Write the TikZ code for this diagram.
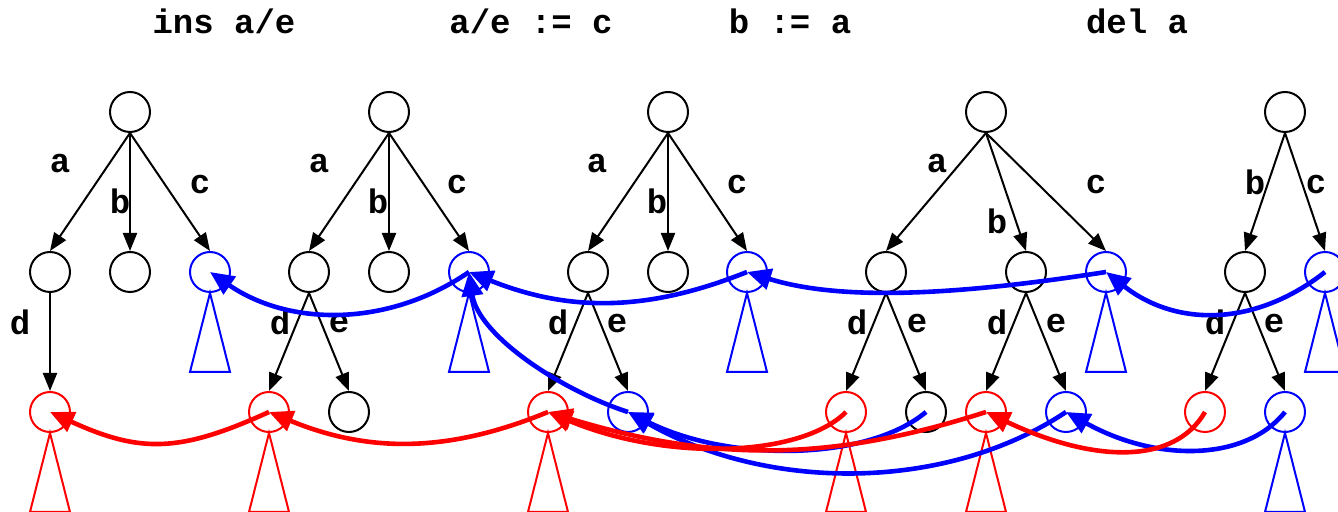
\documentclass[tikz,border=0pt]{standalone}
\usepackage{fontspec}
\setmonofont{Liberation Mono}
\usetikzlibrary{arrows.meta}

\tikzset{
  nd/.style={circle,draw,line width=1pt,minimum size=20pt,inner sep=0pt},
  bnd/.style={nd,draw=blue},
  rnd/.style={nd,draw=red},
  edge/.style={line width=1pt,-{Triangle[length=9pt,width=7pt]}},
  lbl/.style={font=\fontsize{17}{19}\selectfont\ttfamily\bfseries,inner sep=0pt},
  ttl/.style={lbl,anchor=base},
  btri/.style={blue,line width=1pt},
  rtri/.style={red,line width=1pt},
  bcur/.style={blue,line width=2.3pt,-{Triangle[length=12pt,width=10.5pt]}},
  rcur/.style={bcur,red}
}

\begin{document}
\begin{tikzpicture}[x=0.5pt,y=-0.5pt]
  \useasboundingbox (0,0) rectangle (1338,512);

  \node[ttl] (h1) at (224,34) {ins a/e};
  \node[ttl] (h2) at (531,34) {a/e := c};
  \node[ttl] (h3) at (790,34) {b := a};
  \node[ttl] (h4) at (1137,34) {del a};

  \node[nd] (r1) at (130,112) {};
  \node[nd] (t1a) at (50,272) {};
  \node[nd] (t1b) at (130,272) {};
  \node[bnd] (t1c) at (210,272) {};
  \node[rnd] (t1d) at (50,412) {};

  \node[nd] (r2) at (389,112) {};
  \node[nd] (t2a) at (309,272) {};
  \node[nd] (t2b) at (389,272) {};
  \node[bnd] (t2c) at (469,272) {};
  \node[rnd] (t2d) at (269,412) {};
  \node[nd] (t2e) at (349,412) {};

  \node[nd] (r3) at (668,112) {};
  \node[nd] (t3a) at (588,272) {};
  \node[nd] (t3b) at (668,272) {};
  \node[bnd] (t3c) at (747,272) {};
  \node[rnd] (t3d) at (548,412) {};
  \node[bnd] (t3e) at (628,412) {};

  \node[nd] (r4) at (986,112) {};
  \node[nd] (t4a) at (886,272) {};
  \node[nd] (t4b) at (1026,272) {};
  \node[bnd] (t4c) at (1106,272) {};
  \node[rnd] (t4ad) at (846,412) {};
  \node[nd] (t4ae) at (926,412) {};
  \node[rnd] (t4bd) at (986,412) {};
  \node[bnd] (t4be) at (1066,412) {};

  \node[nd] (r5) at (1285,112) {};
  \node[nd] (t5b) at (1245,272) {};
  \node[bnd] (t5c) at (1325,272) {};
  \node[rnd] (t5d) at (1205,412) {};
  \node[bnd] (t5e) at (1285,412) {};

  \foreach \p/\c in {r1/t1a,r1/t1b,r1/t1c,t1a/t1d,
                     r2/t2a,r2/t2b,r2/t2c,t2a/t2d,t2a/t2e,
                     r3/t3a,r3/t3b,r3/t3c,t3a/t3d,t3a/t3e,
                     r4/t4a,r4/t4b,r4/t4c,t4a/t4ad,t4a/t4ae,t4b/t4bd,t4b/t4be,
                     r5/t5b,r5/t5c,t5b/t5d,t5b/t5e}
    \draw[edge] (\p.south) -- (\c.north);

  \foreach \n in {t1c,t2c,t3c,t4c,t5c,t5e}
    \draw[btri] (\n.south) -- ++(-20,79) -- ++(40,0) -- cycle;
  \foreach \n in {t1d,t2d,t3d,t4ad,t4bd}
    \draw[rtri] (\n.south) -- ++(-20,79) -- ++(40,0) -- cycle;

  \node[lbl] (l1a) at (60,164) {a};
  \node[lbl] (l1b) at (120,201) {b};
  \node[lbl] (l1c) at (200,185) {c};
  \node[lbl] (l1d) at (20,322) {d};
  \node[lbl] (l2a) at (319,164) {a};
  \node[lbl] (l2b) at (378,201) {b};
  \node[lbl] (l2c) at (457,185) {c};
  \node[lbl] (l2d) at (280,322) {d};
  \node[lbl] (l2e) at (339,324) {e};
  \node[lbl] (l3a) at (597,164) {a};
  \node[lbl] (l3b) at (657,201) {b};
  \node[lbl] (l3c) at (737,185) {c};
  \node[lbl] (l3d) at (558,322) {d};
  \node[lbl] (l3e) at (617,324) {e};
  \node[lbl] (l4a) at (937,164) {a};
  \node[lbl] (l4b) at (997,221) {b};
  \node[lbl] (l4c) at (1096,185) {c};
  \node[lbl] (l4d) at (857,322) {d};
  \node[lbl] (l4e) at (917,324) {e};
  \node[lbl] (l4f) at (997,322) {d};
  \node[lbl] (l4g) at (1056,324) {e};
  \node[lbl] (l5b) at (1255,182) {b};
  \node[lbl] (l5c) at (1316,185) {c};
  \node[lbl] (l5d) at (1215,322) {d};
  \node[lbl] (l5e) at (1274,324) {e};

  \draw[bcur] (t2c.center) .. controls +(-80,55) and +(80,55) .. (t1c.center);
  \draw[bcur] (t3c.center) .. controls +(-100,40) and +(100,40) .. (t2c.center);
  \draw[bcur] (t4c.center) .. controls +(-160,25) and +(90,28) .. (t3c.center);
  \draw[bcur] (t5c.center) .. controls +(-70,55) and +(70,55) .. (t4c.center);
  \draw[bcur] (t3e.center) .. controls +(-68,-22) and +(9,63) .. (t2c.center);
  \draw[bcur] (t4ae.center) .. controls +(-60,50) and +(100,50) .. (t3e.center);
  \draw[bcur] (t4be.center) .. controls +(-120,80) and +(140,80) .. (t3e.center);
  \draw[bcur] (t5e.center) .. controls +(-40,50) and +(90,50) .. (t4be.center);

  \draw[rcur] (t2d.center) .. controls +(-90,41) and +(90,41) .. (t1d.center);
  \draw[rcur] (t3d.center) .. controls +(-100,41) and +(100,41) .. (t2d.center);
  \draw[rcur] (t4ad.center) .. controls +(-45,45) and +(120,50) .. (t3d.center);
  \draw[rcur] (t4bd.center) .. controls +(-150,48) and +(170,52) .. (t3d.center);
  \draw[rcur] (t5d.center) .. controls +(-30,52) and +(110,52) .. (t4bd.center);
\end{tikzpicture}
\end{document}
